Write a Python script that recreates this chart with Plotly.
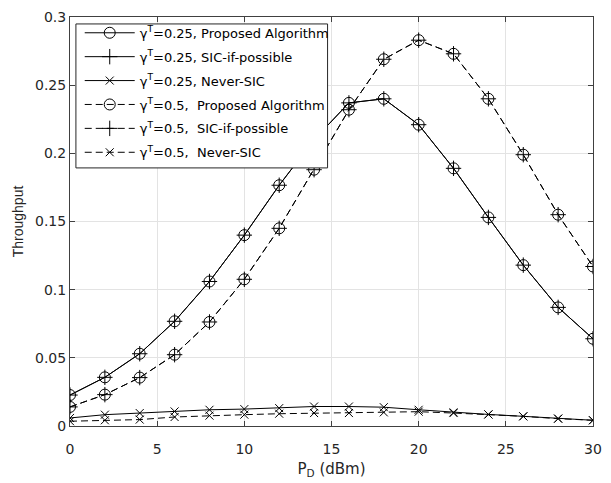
import plotly.graph_objects as go

p_dbm = [0, 2, 4, 6, 8, 10, 12, 14, 16, 18, 20, 22, 24, 26, 28, 30]

prop_025 = [0.0227, 0.0357, 0.053, 0.0768, 0.106, 0.140, 0.1766, 0.210, 0.237, 0.240,
            0.221, 0.189, 0.153, 0.118, 0.087, 0.064]
sic_025 = list(prop_025)
never_025 = [0.0059, 0.0083, 0.0095, 0.0107, 0.0119, 0.0124, 0.0131, 0.0143, 0.0143, 0.0138,
             0.0119, 0.0100, 0.0085, 0.0071, 0.0054, 0.0042]

prop_05 = [0.014, 0.023, 0.0355, 0.0523, 0.0763, 0.1076, 0.145, 0.188, 0.232, 0.269,
           0.283, 0.273, 0.240, 0.199, 0.155, 0.117]
sic_05 = list(prop_05)
never_05 = [0.0035, 0.0042, 0.0047, 0.0066, 0.0076, 0.0083, 0.0090, 0.0095, 0.0095, 0.0100,
            0.0105, 0.0095, 0.0085, 0.0071, 0.0054, 0.0042]

x_ticks = [0, 5, 10, 15, 20, 25, 30]
y_ticks = [0, 0.05, 0.1, 0.15, 0.2, 0.25, 0.3]
y_tick_text = ["0", "0.05", "0.1", "0.15", "0.2", "0.25", "0.3"]

series = [
    ("γ<sup>T</sup>=0.25, Proposed Algorithm", prop_025, "solid", "circle-open", 11),
    ("γ<sup>T</sup>=0.25, SIC-if-possible", sic_025, "solid", "cross-thin-open", 11),
    ("γ<sup>T</sup>=0.25, Never-SIC", never_025, "solid", "x-thin-open", 8),
    ("γ<sup>T</sup>=0.5,  Proposed Algorithm", prop_05, "7px,4px", "circle-open", 11),
    ("γ<sup>T</sup>=0.5,  SIC-if-possible", sic_05, "7px,4px", "cross-thin-open", 11),
    ("γ<sup>T</sup>=0.5,  Never-SIC", never_05, "7px,4px", "x-thin-open", 8),
]

fig = go.Figure()
for i, (name, vals, dash, sym, size) in enumerate(series):
    fig.add_trace(go.Scatter(
        x=p_dbm, y=vals, mode="lines+markers", name=name,
        legendgroup=str(i),
        line=dict(color="black", width=1, dash=dash),
        marker=dict(symbol=sym, size=size, color="black", line=dict(color="black", width=1)),
    ))

tick_font = dict(family="DejaVu Sans", size=14, color="#262626")
axis_common = dict(
    showline=True, linecolor="#404040", linewidth=1, mirror="ticks",
    ticks="inside", ticklen=5, tickcolor="#404040",
    showgrid=True, gridcolor="#e3e3e3", gridwidth=1, zeroline=False,
    tickfont=tick_font,
)

# legend frame (drawn as a shape so the entries can be placed freely)
fig.add_shape(type="rect", xref="paper", yref="paper",
              x0=0.0113, x1=0.4925, y0=0.631, y1=0.983,
              line=dict(color="#262626", width=1), fillcolor="white", layer="above")

fig.update_layout(
    width=611, height=483,
    margin=dict(l=70, r=9, t=11, b=57),
    paper_bgcolor="white", plot_bgcolor="white",
    font=dict(family="DejaVu Sans", color="#262626"),
    xaxis=dict(range=[0, 30], tickvals=x_ticks, ticklabelstandoff=10,
               title=dict(text="P<sub>D</sub> (dBm)",
                          font=dict(family="DejaVu Sans", size=15), standoff=7),
               **axis_common),
    yaxis=dict(range=[0, 0.3], tickvals=y_ticks, ticktext=y_tick_text,
               ticklabelstandoff=0,
               title=dict(text="Throughput",
                          font=dict(family="Liberation Sans, Arial", size=14), standoff=8),
               **axis_common),
    legend=dict(x=0.0186, y=0.998, xanchor="left", yanchor="top",
                bgcolor="rgba(0,0,0,0)", borderwidth=0,
                font=dict(family="DejaVu Sans", size=13, color="black"),
                traceorder="grouped", tracegroupgap=4,
                itemwidth=50),
    showlegend=True,
)

fig.write_html("out.html")
